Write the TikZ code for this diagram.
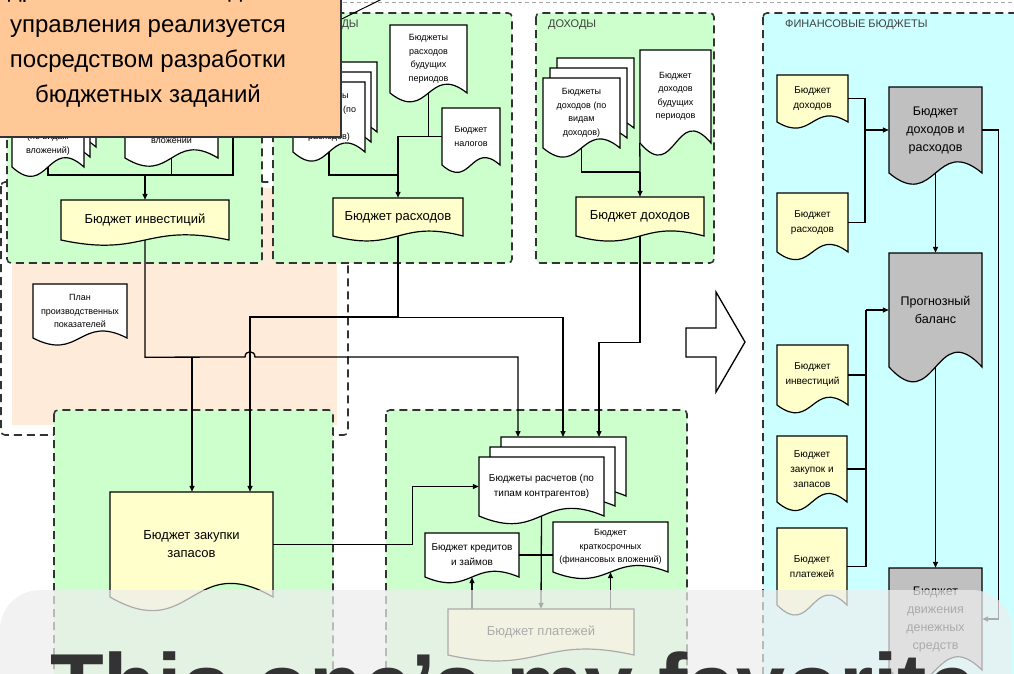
\documentclass[tikz,border=0pt]{standalone}
\usepackage{fontspec}
\setmainfont{Liberation Sans}
\usetikzlibrary{arrows.meta}

\definecolor{grpgreen}{HTML}{CCFFCC}
\definecolor{grppeach}{HTML}{FFEBD9}
\definecolor{grpcyan}{HTML}{CCFFFF}
\definecolor{docyellow}{HTML}{FFFFCC}
\definecolor{docgray}{HTML}{C0C0C0}
\definecolor{notebg}{HTML}{FFC896}

\tikzset{
  grp/.style={draw=black!80, line width=1.6pt, dash pattern=on 8pt off 5pt, rounded corners=4pt},
  grplabel/.style={anchor=west, inner sep=0pt, text=black!75, font=\fontsize{11}{13}\selectfont},
  docedge/.style={draw=black, line width=1.2pt},
  doctext/.style={inner sep=0pt, align=center, text=black},
  wire/.style={draw=black, line width=1.3pt},
  arr/.style={wire, -{Triangle[length=6pt,width=5pt]}},
  f9/.style={font=\fontsize{9}{13.5}\selectfont},
  f10/.style={font=\fontsize{10}{15}\selectfont},
  f12/.style={font=\fontsize{12.5}{18}\selectfont},
  f13/.style={font=\fontsize{13}{18}\selectfont},
}

% sheet with a wavy lower edge
\newcommand{\docwave}[5]{%
  \path[docedge,#1] ({#2},{#3}) -- ({#4},{#3}) -- ({#4},{#5})
    .. controls ({(#2+#4)/2},{#5-0.45*(#5-#3)}) and ({(#2+#4)/2},{#5+0.45*(#5-#3)}) .. ({#2},{#5}) -- cycle;}
\newcommand{\docsheet}[7]{%
  \docwave{#1}{#3}{#4}{#5}{#6}
  \node[doctext,#1,fill=none,minimum width={(#5-#3)*1pt},minimum height={(#6-#4)*1pt}] (#2) at ({(#3+#5)/2},{(#4+#6)/2}) {#7};}
\newcommand{\docstack}[8][7]{%
  \docwave{#2}{(#4+2*#1)}{(#5-20)}{(#6+2*#1)}{(#7-20)}
  \docwave{#2}{(#4+#1)}{(#5-10)}{(#6+#1)}{(#7-10)}
  \docsheet{#2}{#3}{#4}{#5}{#6}{#7}{#8}}

\begin{document}
\begin{tikzpicture}[x=1pt, y=-1pt]
\useasboundingbox (0,0) rectangle (1014,673);
\clip (0,0) rectangle (1014,673);

\draw[black!35, line width=1pt, dash pattern=on 4pt off 3pt] (343,2) -- (1014,2);

\fill[grppeach] (12,188) rectangle (337,425);
\draw[grp] (1,182) rectangle (348,435);
\filldraw[grp, fill=grpgreen] (7,-20) rectangle (262,263);
\filldraw[grp, fill=grpgreen] (273,13) rectangle (512,263);
\filldraw[grp, fill=grpgreen] (536,13) rectangle (714,263);
\filldraw[grp, fill=grpcyan] (763,13) rectangle (1030,690);
\filldraw[grp, fill=grpgreen] (54,410) rectangle (333,690);
\filldraw[grp, fill=grpgreen] (386,410) rectangle (687,690);

\node[grplabel] (lras) at (305,25) {РАСХОДЫ};
\node[grplabel] (ldoh) at (548,25) {ДОХОДЫ};
\node[grplabel] (lfin) at (785,25) {ФИНАНСОВЫЕ БЮДЖЕТЫ};

\docstack[6]{fill=white, f9}{inva}{12}{95}{84}{167}{Бюджеты\\инвестиций\\(по видам\\вложений)}
\docsheet{fill=white, f9}{invb}{125}{95}{218}{158}{Бюджет\\капитальных\\вложений}
\docsheet{fill=docyellow, f13}{binv}{61}{200}{229}{240}{Бюджет инвестиций}

\docstack[6]{fill=white, f9}{rasa}{293}{82}{365}{152}{Бюджеты\\расходов (по\\видам\\расходов)}
\docsheet{fill=white, f9}{rasb}{390}{25}{467}{93}{Бюджеты\\расходов\\будущих\\периодов}
\docsheet{fill=white, f9}{rasc}{442}{108}{500}{165}{Бюджет\\налогов}
\docsheet{fill=docyellow, f13}{bras}{333}{198}{463}{236}{Бюджет расходов}

\docstack{fill=white, f9}{doha}{543}{78}{620}{148}{Бюджеты\\доходов (по\\видам\\доходов)}
\docsheet{fill=white, f9}{dohb}{640}{50}{711}{143}{Бюджет\\доходов\\будущих\\периодов}
\docsheet{fill=docyellow, f13}{bdoh}{576}{197}{704}{236}{Бюджет доходов}

\docsheet{fill=white, f9}{plan}{33}{284}{127}{338}{План\\производственных\\показателей}

\docsheet{fill=docyellow, f10}{fdoh}{777}{75}{848}{122}{Бюджет\\доходов}
\docsheet{fill=docyellow, f10}{fras}{777}{193}{848}{252}{Бюджет\\расходов}
\docsheet{fill=docyellow, f10}{finv}{777}{345}{848}{405}{Бюджет\\инвестиций}
\docsheet{fill=docyellow, f10}{fzak}{777}{436}{847}{502}{Бюджет\\закупок и\\запасов}
\docsheet{fill=docyellow, f10}{fplat}{777}{528}{847}{605}{Бюджет\\платежей}
\docsheet{fill=docgray, f12}{fdr}{889}{87}{982}{173}{Бюджет\\доходов и\\расходов}
\docsheet{fill=docgray, f12}{prog}{889}{253}{982}{367}{Прогнозный\\баланс}
\docsheet{fill=docgray, f12}{dds}{889}{568}{982}{670}{Бюджет\\движения\\денежных\\средств}

\docsheet{fill=docyellow, f13}{zak}{110}{492}{273}{597}{Бюджет закупки\\запасов}
\docstack[11]{fill=white, f10}{calc}{479}{457}{604}{516}{Бюджеты расчетов (по\\типам контрагентов)}
\docsheet{fill=white, f10}{kred}{425}{533}{519}{577}{Бюджет кредитов\\и займов}
\docsheet{fill=white, f9}{krat}{553}{522}{668}{572}{Бюджет\\краткосрочных\\(финансовых вложений)}
\docsheet{fill=docyellow, f13}{plat}{448}{609}{634}{655}{Бюджет платежей}

\coordinate (invtop) at (233,120);
\coordinate (j1) at (145,175);
\draw[wire] (inva.south) |- (j1) -| (invtop);
\draw[wire] (invb.south) -- (invb.south |- j1);
\draw[arr] (j1) -- (binv.north);

\coordinate (j2) at (398,175);
\draw[wire] (rasa.south) |- (j2);
\draw[wire] (rasb.south) |- (rasc.west);
\draw[wire] (rasc.west) -| (j2);
\draw[arr] (j2) -- (bras.north);

\coordinate (j3) at (640,172);
\draw[wire] (doha.south) |- (j3);
\draw[wire] (dohb.south west) -- (j3);
\draw[arr] (j3) -- (bdoh.north);

\coordinate (ct1) at (518,437);
\coordinate (ct2) at (563,437);
\coordinate (ct3) at (599,437);
\draw[arr] (binv.south) -- ++(0,117) -- (245,357) .. controls (245,350) and (255,350) .. (255,357) -| (ct1);
\coordinate (k1) at (192,357);
\draw[arr] (k1) -- (k1 |- zak.north);
\draw[arr] (bras.south) -- ++(0,81) -| (ct2);
\coordinate (k2) at (398,317);
\coordinate (k3) at (250,317);
\draw[arr] (k2) -- (k3) -- (k3 |- zak.north);
\draw[arr] (bdoh.south) -- ++(0,106) -| (ct3);

\draw[arr] (zak.east) -- ++(139,0) |- (calc.west);
\draw[wire] (kred.east) -- (kred.east -| krat.west);
\draw[arr] (calc.south) -- (plat.north);
\draw[arr] (plat.north -| kred.south) -- (kred.south);
\draw[arr] (plat.north -| krat.south) -- (krat.south);

\coordinate (j4) at (865,130);
\draw[wire] (fdoh.east) -| (j4) |- (fras.east);
\draw[arr] (j4) -- (fdr.west);
\draw[arr] (fdr.south) -- (prog.north);
\draw[arr] (prog.south) -- (dds.north);
\draw[arr] (fdr.east) -- ++(16,0) |- (dds.east);
\coordinate (j5) at (866,310);
\draw[arr] (j5) -- (prog.west);
\draw[wire] (finv.east) -- (finv.east -| j5);
\draw[wire] (fzak.east) -- (fzak.east -| j5);
\draw[wire, line width=1.8pt] (fplat.east) -| (j5);

\draw[line width=1.3pt, fill=white] (686,328) -- (716,328) -- (716,292) -- (745,342) -- (716,392) -- (716,357) -- (686,357) -- cycle;

\node[fill=notebg, draw=black!80, line width=1.5pt, minimum width=386pt, minimum height=186pt, align=center, inner sep=0pt, font=\fontsize{24}{35}\selectfont] (note) at (148,44) {Внедрение системы бюджетного\\управления реализуется\\посредством разработки\\бюджетных заданий};
\coordinate (ptr) at (392,-6);
\draw[line width=1pt] ([yshift=25pt]note.east) -- (ptr);

\fill[black!7, opacity=0.72, rounded corners=40pt] (0,590) rectangle (1012,760);
\node[anchor=base west, inner sep=0pt, text=black!80, font=\fontsize{88}{90}\selectfont\bfseries] (banner) at (50,715) {This one's my favorite};
\end{tikzpicture}
\end{document}
